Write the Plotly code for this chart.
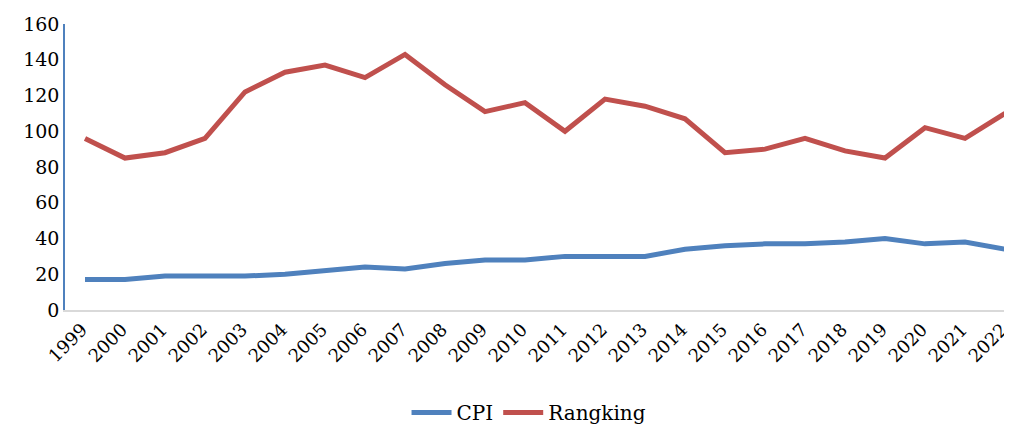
import plotly.graph_objects as go

years = [str(y) for y in range(1999, 2023)]
cpi = [17, 17, 19, 19, 19, 20, 22, 24, 23, 26, 28, 28, 30, 30, 30, 34, 36, 37, 37, 38, 40, 37, 38, 34]
rangking = [96, 85, 88, 96, 122, 133, 137, 130, 143, 126, 111, 116, 100, 118, 114, 107, 88, 90, 96, 89, 85, 102, 96, 110]
y_ticks = [0, 20, 40, 60, 80, 100, 120, 140, 160]

font = "DejaVu Serif"

fig = go.Figure()
fig.add_trace(go.Scatter(x=years, y=cpi, mode="lines", name="CPI",
                         line=dict(color="#4F81BD", width=5)))
fig.add_trace(go.Scatter(x=years, y=rangking, mode="lines", name="Rangking",
                         line=dict(color="#C0504D", width=5)))

# page body has an 8px margin, so the figure is shrunk by 8px on each axis
fig.update_layout(
    width=1004, height=417,
    margin=dict(l=57, r=0, t=16, b=115, autoexpand=False),
    paper_bgcolor="white", plot_bgcolor="white",
    font=dict(family=font, size=19, color="black"),
    showlegend=True,
    legend=dict(orientation="h", x=0.49, xanchor="center", y=-0.29, yanchor="top",
                font=dict(family=font, size=20), itemwidth=40, tracegroupgap=0),
)
fig.update_xaxes(type="category", range=[-0.5, 23.175], tickangle=-45, automargin=False,
                 showline=True, linecolor="#D9D9D9", linewidth=2, ticklabelshift=-3,
                 showgrid=False, ticks="", tickfont=dict(family=font, size=18))
fig.update_yaxes(range=[0, 160], tickvals=y_ticks, showline=True, linecolor="#4F81BD",
                 linewidth=1.5, showgrid=False, zeroline=False, ticks="", automargin=False,
                 tickfont=dict(family=font, size=19))

fig.write_html("out.html")
